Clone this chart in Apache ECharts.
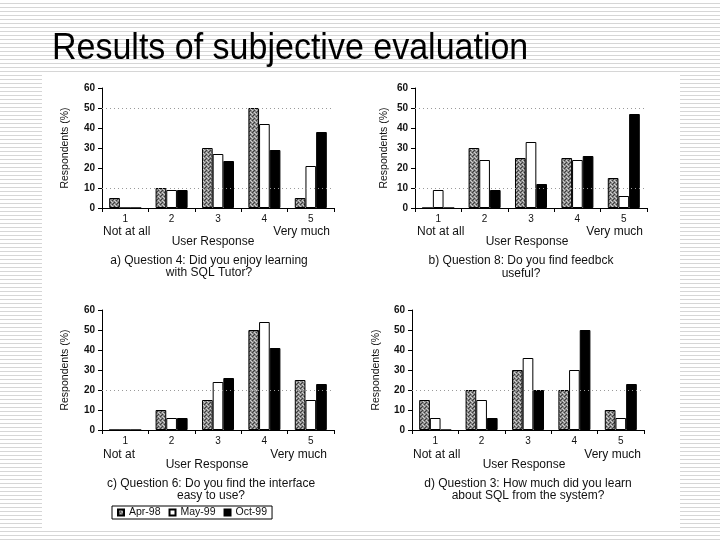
<!DOCTYPE html>
<html><head><meta charset="utf-8">
<script src="https://cdn.jsdelivr.net/npm/echarts@6/dist/echarts.min.js"></script>
<style>
html,body{margin:0;padding:0;}
body{width:720px;height:540px;background:repeating-linear-gradient(to bottom,#ffffff 0px,#ffffff 3px,#d6d6d6 3px,#d6d6d6 4px);}
#c{width:720px;height:540px;}
</style></head>
<body><div id="c"></div>
<script>
const titleText = 'Results of subjective evaluation';
const categories = ['1','2','3','4','5'];
const seriesNames = ['Apr-98','May-99','Oct-99'];
// panel a) Question 4
const q4Apr = [5,10,30,50,5];
const q4May = [0,9,27,42,21];
const q4Oct = [0,9,23.5,29,38];
// panel b) Question 8
const q8Apr = [0,30,25,25,15];
const q8May = [9,24,33,24,6];
const q8Oct = [0,9,12,26,47];
// panel c) Question 6
const q6Apr = [0,10,15,50,25];
const q6May = [0,6,24,54,15];
const q6Oct = [0,6,26,41,23];
// panel d) Question 3
const q3Apr = [15,20,30,20,10];
const q3May = [6,15,36,30,6];
const q3Oct = [0,6,20,50,23];
const yMin = 0, yMax = 60, yStep = 10;
const yName = 'Respondents (%)';
const xName = 'User Response';
const lowLabels = ['Not at all','Not at all','Not at','Not at all'];
const highLabel = 'Very much';
const captions = [
  ['a) Question 4: Did you enjoy learning','with SQL Tutor?'],
  ['b) Question 8: Do you find feedbck','useful?'],
  ['c) Question 6: Do you find the interface','easy to use?'],
  ['d) Question 3: How much did you learn','about SQL from the system?']
];
const dotLines = [[10,50],[10,50],[20],[20]];
const panelData = [[q4Apr,q4May,q4Oct],[q8Apr,q8May,q8Oct],[q6Apr,q6May,q6Oct],[q3Apr,q3May,q3Oct]];

const FONT = '"Liberation Sans", Arial, Helvetica, sans-serif';
const grids = [
  {left:102, top:88, width:232, height:120},
  {left:415, top:88, width:232, height:120},
  {left:102, top:310, width:232, height:120},
  {left:412, top:310, width:232, height:120}
];
const nameGaps = [31,25,31,30];
const textPos = [
  {low:[103,232], high:[330,232], xn:[213,242], cap:[209,261,273]},
  {low:[417,232], high:[643,232], xn:[527,242], cap:[521,261,274]},
  {low:[103,455], high:[327,455], xn:[207,465], cap:[211,484,496]},
  {low:[413,455], high:[641,455], xn:[524,465], cap:[528,484,496]}
];

function makePattern(){
  const c=document.createElement('canvas'); c.width=4; c.height=4;
  const g=c.getContext('2d');
  g.fillStyle='#888888'; g.fillRect(0,0,4,4);
  g.fillStyle='#3c3c3c'; g.fillRect(0,0,1,1); g.fillRect(2,2,1,1); g.fillRect(1,3,1,1);
  g.fillStyle='#cfcfcf'; g.fillRect(2,0,1,1); g.fillRect(0,2,1,1); g.fillRect(3,1,1,1);
  return c;
}
const fills = [{image:makePattern(), repeat:'repeat'}, '#ffffff', '#000000'];

const chart = echarts.init(document.getElementById('c'));
const xAxis=[], yAxis=[], series=[], graphic=[];
graphic.push({type:'rect', shape:{x:42,y:72,width:638,height:458}, style:{fill:'#ffffff'}, z:-10, silent:true});
graphic.push({type:'text', style:{text:titleText, x:52, y:49, textVerticalAlign:'middle', font:'normal 34px '+FONT, fill:'#000'}, scaleY:1.08, originY:49});

grids.forEach((g,i)=>{
  xAxis.push({type:'category', gridIndex:i, data:categories,
    axisLine:{lineStyle:{color:'#000',width:1}},
    axisTick:{show:true, length:4, lineStyle:{color:'#000'}},
    axisLabel:{color:'#111', fontSize:10, fontFamily:FONT, margin:6}});
  yAxis.push({type:'value', gridIndex:i, min:yMin, max:yMax, interval:yStep,
    name:yName, nameLocation:'middle', nameGap:nameGaps[i], nameRotate:90,
    nameTextStyle:{color:'#111', fontSize:10.5, fontFamily:FONT},
    axisLine:{show:true, lineStyle:{color:'#000',width:1}},
    axisTick:{show:true, length:4, lineStyle:{color:'#000'}},
    splitLine:{show:false},
    axisLabel:{color:'#111', fontSize:10, fontWeight:'bold', fontFamily:FONT, margin:7}});
  panelData[i].forEach((vals,k)=>{
    const s = {type:'bar', name:seriesNames[k], xAxisIndex:i, yAxisIndex:i, data:vals,
      barGap:'0%', barCategoryGap:'31%',
      itemStyle:{color:fills[k], borderColor:'#000', borderWidth:1},
      emphasis:{disabled:true}, animation:false};
    if(k===0){
      s.markLine = {silent:true, symbol:'none', label:{show:false},
        lineStyle:{color:'#9a9a9a', type:[1,3], width:1},
        data: dotLines[i].map(v=>({yAxis:v}))};
    }
    series.push(s);
  });
  const t = textPos[i];
  const st = (txt,x,y,align)=>({type:'text', silent:true, style:{text:txt,x:x,y:y,textAlign:align,textVerticalAlign:'middle', font:'normal 12px '+FONT, fill:'#111'}});
  graphic.push(st(lowLabels[i], t.low[0], t.low[1], 'left'));
  graphic.push(st(highLabel, t.high[0], t.high[1], 'right'));
  graphic.push(st(xName, t.xn[0], t.xn[1], 'center'));
  graphic.push(st(captions[i][0], t.cap[0], t.cap[1], 'center'));
  graphic.push(st(captions[i][1], t.cap[0], t.cap[2], 'center'));
});

chart.setOption({
  animation:false,
  backgroundColor:'transparent',
  grid: grids,
  xAxis: xAxis,
  yAxis: yAxis,
  series: series,
  graphic: graphic,
  legend:{data:seriesNames, left:112, top:506, orient:'horizontal',
    itemWidth:6, itemHeight:6, itemGap:8, padding:[1,5],
    borderColor:'#000', borderWidth:1, backgroundColor:'#fff',
    icon:'rect', selectedMode:false,
    textStyle:{color:'#111', fontSize:10.5, fontFamily:FONT}}
});
</script>
</body></html>
